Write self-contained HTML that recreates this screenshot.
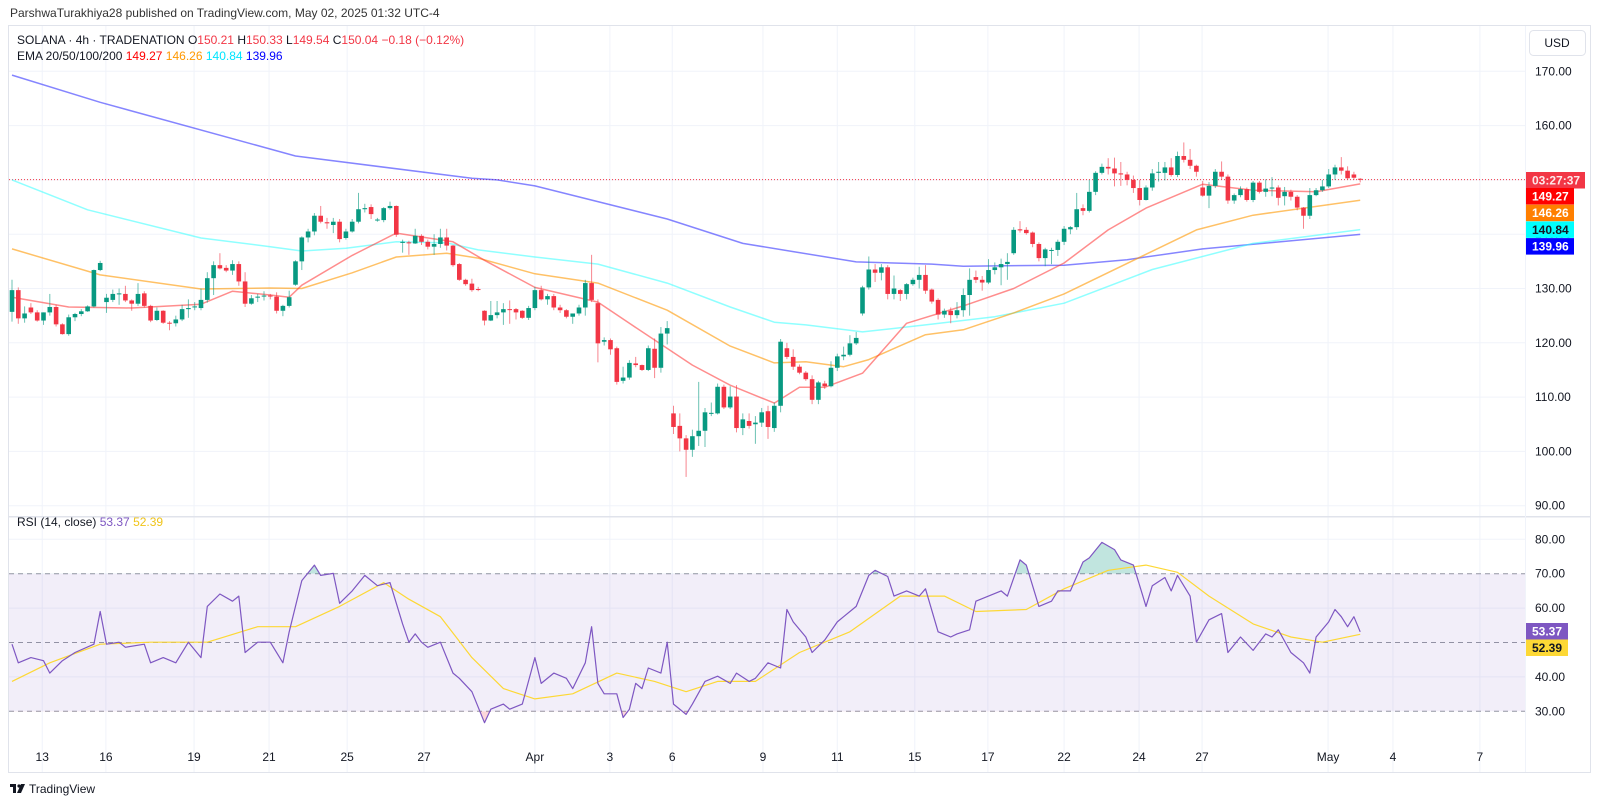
<!DOCTYPE html>
<html><head><meta charset="utf-8">
<style>
html,body{margin:0;padding:0;background:#fff;}
body{width:1600px;height:806px;overflow:hidden;font-family:"Liberation Sans",sans-serif;}
svg text{font-family:"Liberation Sans",sans-serif;}
</style></head>
<body>
<svg id="chart" width="1600" height="806" xmlns="http://www.w3.org/2000/svg">
  <text x="10" y="17" font-size="12" fill="#333">ParshwaTurakhiya28 published on TradingView.com, May 02, 2025 01:32 UTC-4</text>
  <rect x="8.5" y="25.5" width="1582" height="747" fill="none" stroke="#e0e3eb"/>
  <g id="grid"></g>
  <rect x="9" y="0" width="1516" height="0" id="rsiBand" fill="#7e57c2" fill-opacity="0.1"/>
  <g id="rsiFill"></g>
  <g id="ema"></g>
  <g id="candles"></g>
  <g id="rsi"></g>
  <line x1="9" x2="1590" y1="516.7" y2="516.7" stroke="#e0e3eb" stroke-width="1.5"/>
  <line x1="1525.5" x2="1525.5" y1="26" y2="772" stroke="#f0f3fa"/>
  <g id="axes"></g>
  <g font-size="12">
    <text x="17" y="44"><tspan fill="#131722">SOLANA · 4h · TRADENATION  </tspan><tspan fill="#131722">O</tspan><tspan fill="#f23645">150.21</tspan><tspan fill="#131722">  H</tspan><tspan fill="#f23645">150.33</tspan><tspan fill="#131722">  L</tspan><tspan fill="#f23645">149.54</tspan><tspan fill="#131722">  C</tspan><tspan fill="#f23645">150.04  −0.18 (−0.12%)</tspan></text>
    <text x="17" y="60"><tspan fill="#131722">EMA 20/50/100/200 </tspan><tspan fill="#ff0000"> 149.27 </tspan><tspan fill="#ff9800"> 146.26 </tspan><tspan fill="#00e5ff"> 140.84 </tspan><tspan fill="#0000ff"> 139.96</tspan></text>
    <text x="17" y="526"><tspan fill="#131722">RSI (14, close) </tspan><tspan fill="#7e57c2"> 53.37 </tspan><tspan fill="#f0c419"> 52.39</tspan></text>
  </g>
  <g>
    <rect x="1529.5" y="30.5" width="56" height="25" rx="4" fill="#fff" stroke="#e0e3eb"/>
    <text x="1557" y="47" font-size="12" fill="#131722" text-anchor="middle">USD</text>
  </g>
  <g transform="translate(0,15)">
    <rect x="10" y="769" width="6" height="3" fill="#131722"/><rect x="13" y="769" width="3" height="9" fill="#131722"/>
    <circle cx="19" cy="771" r="1.6" fill="#131722"/><path d="M21 769 L25 769 L21 778 L17 778 Z" fill="#131722"/>
    <text x="29" y="778" font-size="12" fill="#131722">TradingView</text>
  </g>
</svg>
<script>
// ---- data ----
const O=[125.7,129.7,124.5,126.5,125.6,124.1,125.6,126.6,123.4,121.6,124.7,125.3,125.8,126.7,133.4,127.5,127.9,129.0,129.0,127.8,127.2,129.1,126.8,124.2,125.9,123.7,123.6,124.3,126.2,126.6,126.4,127.9,131.9,134.3,133.8,133.3,134.5,131.3,127.2,128.4,128.6,
128.7,128.5,125.9,126.8,130.7,135,139.4,140.5,143.4,142.2,141.7,142.3,139.3,140.5,142.3,144.6,145,142.6,142.6,144.8,145.2,138.4,138.5,138.3,139.7,138.6,137.7,138.2,139.4,137.9,134.5,131.6,130.9,129.9,125.9,124.1,125.1,125.6,126.2,126.2,125.9,124.6,126.4,
129.7,128,128.6,126.5,
126,124.8,125.4,126.5,131,127.3,120.2,120.5,119,113,113.6,116.2,115.9,115,118.9,115.4,121.7,107,104.7,102.4,100.3,102.8,103.8,107,107,111.9,108.1,110.1,104.3,105.6,105,105.3,107.4,104.3,108.4,119,117.4,115.6,
114.5,113.3,109.5,112.5,112,115.4,117.5,117.8,119.9,125.4,130.2,133.5,132.9,133.9,129,129.7,129,130.8,131.6,132.5,129.8,127.9,125.2,125.9,125.1,126,128.8,132.1,131.6,131.1,133.4,133.9,134.5,136.5,140.9,140.8,140.3,138.2,135.6,137,137.1,
138.6,
140.9,141.3,144.8,144.3,147.8,151.3,152.4,152.1,151.2,151,150,148.5,146.3,148.6,151.3,151.3,152.3,150.9,154.4,153.7,152.6,148.6,147.1,148.9,151.5,150.6,146.2,147.2,148.3,146.3,149.5,147.8,148.4,148.6,147,147.8,146.9,144.9,143.4,147.2,148.1,148.8,151,152.3,151.7,151,150.21];
const H=[131.6,130.2,126.7,127.3,126,125.6,129,127,123.6,125.2,125.5,126.2,126.9,133.5,135.1,129,129.8,130,130.5,128,131,129.5,127,126.5,126,124,125,127,128,127.5,130,133,135,136.5,134.3,135.2,135,133,128.8,129,129.5,
129,129.3,127,129.6,135.2,139.6,141,143.9,145.2,143,143,142.8,141,142.8,147.6,145.6,145.5,143,145,146,145.3,139,138.8,141,140,139,140,141,141,138,134.7,131.8,131.8,130.3,126,127.7,127.7,127.3,127.8,126.4,126,126.8,130.3,
130.5,129,129,127,
126.2,125.4,127,131.6,136.2,128,121,120.8,119.3,115.6,116.8,117.4,116,119.5,120.8,122.9,124,108.4,107,103,104,112.8,108,109,112.5,112.3,112,112.2,107,107,106.5,108,108.4,109,120.7,120,118.8,116,
114.8,114,113,113,116.6,118,119.3,121.4,122,130.5,135.9,134.5,134.5,134.3,132.4,129.9,131,132,134,134.3,130,128.2,126.3,126.5,127.5,130,133.7,133.3,132.3,135.4,134.8,135.5,136.5,141.3,142.4,141.3,140.5,138.5,137.5,137.5,139,
141.5,
141.5,147.6,145.5,150,151.6,153,154,154.1,153.3,151.5,150.8,150,149,152,153.3,153.3,154,155.2,156.9,155.7,152.8,149.8,149.6,152,153.4,151,147.5,148.8,148.6,149.8,149.8,150.1,150.5,149,148.7,148.2,147.2,145,148.5,148.5,150,152,152.8,154.2,152.5,151.5,150.33];
const L=[123.9,123.5,123.7,125.3,123.9,123.3,125,123,121.5,121.3,124,124.9,125.7,126.5,133.2,125.5,127.5,127,127.5,125.9,126.8,126.5,123.8,124,123.5,122.3,123,124,124.6,126,126,127.4,128.8,133.5,133,132.5,130.5,126.6,127,127.5,127.8,
128,125.4,124.9,126.5,130.5,133.4,138.5,139.8,142,141,140.2,138.5,139,140.3,142,144,142.8,142.3,142.2,144.5,139.5,136.6,136.2,138.2,138,137.2,136.2,137.5,137,134,131.4,130.5,129.4,129.5,123.2,124,124.5,123.3,123.5,124.3,124.4,124.2,126,
127.8,127,126,125.5,
124.5,123.5,125,125,127.5,116.4,119.5,117.8,112.3,112.5,113.2,115.5,114.8,114.8,113.5,114.5,119.7,103.2,100,95.3,99,101,100.8,106.5,106.8,107.8,107.8,103.5,103,104.2,101.4,104.5,102.3,103.6,107.2,117,115,114.2,
113,108.7,108.7,111.5,111.8,114.8,116.8,117.5,119.6,125,129.8,131.2,131.5,128,128,127.7,128,130.5,130,129,127.2,124.3,124.6,123.6,124.5,124.8,125,131,129.6,130.8,132.6,130.6,131.6,136.2,140.3,139.9,137.6,135,134.1,134.5,136,
138,
140,140.8,143.5,144,147.2,151,151,148.8,148.9,149,147.6,145.3,146.2,148,149.7,149.9,150.6,150.5,153.2,152,150.6,146.9,144.8,148.5,150,145.6,145.6,146.8,146,145.9,147.5,146.9,147,145.3,145.3,146.2,144.4,141,142.8,147,147.8,148.5,150,151,150,150,149.54];
const C=[129.7,124.5,125.4,125.6,124.1,125.6,126.6,123.4,121.6,124.7,125.3,125.8,126.7,133.4,134.7,128.3,129.0,129.1,127.8,127.2,129.0,126.8,124.1,125.9,123.7,123.6,124.3,126.2,126.4,126.7,127.9,131.9,134.3,133.7,133.3,134.5,131.3,127.2,128.2,128.5,128.7,
128.6,125.9,126.8,128.4,135.0,139.4,140.5,143.4,142.3,142.0,142.3,139.1,140.5,142.3,144.6,144.8,143.7,142.7,144.8,145.2,139.9,138.6,138.4,139.7,138.6,137.7,138.2,139.4,137.9,134.3,131.6,130.8,129.7,129.8,124.1,125.1,125.6,126.2,126.1,125.6,124.6,126.4,129.7,
128,128.6,126.5,126,
124.8,125.4,126.5,131,127.9,119.9,120.5,118.8,112.8,113.6,116.3,115.9,115,119,115.4,121.7,122.7,104.5,102.4,100.3,102.8,103.8,107.2,107.1,111.9,108.1,110.1,104.3,105.9,104.7,105.3,107.2,104.5,108.4,120.2,117.4,115.6,114.5,
113.3,109.5,112.7,112,115.4,117.5,117.8,119.9,120.9,130.2,133.5,132.9,133.9,129,130,129,130.8,131.6,132.5,129.6,127.6,125.2,125.9,125.1,126,128.8,131.6,131.6,131.1,133.4,133.9,134.5,134.9,140.8,140.7,140.2,138.2,135.6,137.2,137.1,138.6,
141,
141.3,144.6,144.3,147.8,151.3,152.4,152.1,151.2,151,150,148.5,146.3,148.6,151.2,151.5,152.3,150.9,154.4,153.7,152.6,151.5,147.1,148.9,151.5,150.6,146.2,147.2,148.3,146.3,149.5,147.8,148.4,148.6,146.7,147.8,146.9,144.9,143.4,147.2,148.1,148.8,151,152.3,151.7,150.3,150.4,150.04];

const ema20Bar=[0,9,19,30,35,41,44,46,54,61,70,75,83,93,98,108,114,121,125,129,135,142,151,159,167,174,180,189,197,207,214];
const ema20Val=[128.4,126.6,126.4,127.1,129.5,128.8,128.4,130.6,136.1,140.2,138.6,135.2,130.2,127.5,123.6,115.9,112.2,108.9,111.8,111.8,114.4,123.6,126.8,130,134.7,140.8,144.8,149.2,148.1,147.8,149.27];
const ema50Bar=[0,14,30,41,46,54,61,69,74,83,93,104,114,121,126,132,136,145,151,159,167,188,197,214];
const ema50Val=[137.3,132.5,129.9,130.1,130,132.9,135.8,136.5,135.6,132.7,131,126,119.4,116.3,116.5,115.6,116.9,121.5,122.4,125.5,129,140.8,143.5,146.26];
const ema100Bar=[0,12,30,41,46,53,61,69,74,83,93,104,114,121,126,135,145,156,167,181,197,214];
const ema100Val=[150,144.5,139.3,137.7,136.9,137.4,138.6,138.4,137.1,135.8,134.5,131,126.6,123.8,123.3,122,123.3,124.8,127.3,133.5,138.3,140.84];
const ema200Bar=[0,14,45,73,77,83,104,116,124,134,146,151,167,177,189,214];
const ema200Val=[169.3,164.3,154.4,150.3,150,148.9,142.8,138.3,136.8,134.9,134.5,134.1,134.3,135.3,137.3,139.96];

const rsiBar=[0,1,3,5,6,8,10,13,14,15,17,18,21,22,24,26,28,30,31,33,35,36,37,39,41,43,44,46,48,49,51,52,54,56,58,60,62,63,64,65,66,68,70,71,73,75,76,78,79,81,83,84,86,88,89,91,92,93,94,96,97,98,99,100,101,103,104,105,107,108,110,112,114,115,117,118,120,122,123,124,126,127,129,131,132,134,136,137,139,140,142,144,145,147,149,150,152,153,155,157,158,160,161,163,165,166,168,170,171,173,175,176,178,180,181,183,184,185,187,188,190,192,193,195,197,199,200,201,203,205,206,207,209,210,211,212,213,214];
const rsiVal=[49.5,44.1,45.6,44.7,41.1,44.7,47.1,49.5,59.0,49.5,50.1,48.6,49.5,44.1,45.6,44.1,50.1,45.6,60.5,64.1,62.0,63.5,47.1,50.1,50.1,44.1,53.1,68.0,72.5,69.5,70.1,61.4,65.0,69.5,66.5,67.4,55.4,50.1,52.5,50.1,48.6,50.1,41.1,39.6,35.7,26.7,30.6,32.1,30.6,32.1,45.6,38.1,41.1,39.6,36.6,44.1,54.6,38.1,35.1,35.1,28.2,30.6,38.1,36.6,42.6,41.1,50.1,32.1,29.1,32.1,38.7,40.2,38.1,41.1,38.7,39.6,44.1,42.6,59.6,56.0,51.6,47.1,50.7,56.0,57.5,60.5,69.5,71.0,69.2,63.5,65.0,63.5,65.6,53.1,51.6,52.5,53.7,62.0,63.5,65.0,63.5,74.0,72.5,60.5,62.0,65.0,65.0,73.4,74.6,79.1,77.0,74.0,72.5,60.5,66.5,68.9,65.0,69.5,63.5,50.1,56.6,58.4,47.1,51.6,47.7,52.5,51.6,53.7,47.1,44.1,41.1,51.6,56.0,59.6,57.5,54.6,57.5,53.1,53.37];
const rsiMaBar=[0,6,14,22,31,39,45,52,59,63,68,73,78,83,89,96,102,107,112,118,125,133,141,148,153,161,167,174,180,185,190,197,203,208,214];
const rsiMaVal=[38.7,44.1,49.5,50.1,50.1,54.6,54.6,60.5,67.4,62.6,57.5,45.6,36.6,33.6,35.1,41.1,38.7,35.7,38.7,38.7,47.1,53.1,63.5,63.5,59.0,59.6,65.6,71.0,72.5,70.4,63.5,55.4,51.6,50.1,52.39];

const priceTicks=[170,160,150,140,130,120,110,100,90];
const rsiTicks=[80,70,60,50,40,30];
const dateLabels=["13","16","19","21","25","27","Apr","3","6","9","11","15","17","22","24","27","May","4","7"];
const dateBars=[4.8,14.9,28.9,40.8,53.2,65.4,83,94.9,104.8,119.2,131,143.3,154.9,167,178.9,188.9,208.9,219.2,233];
const lastClose=150.04;
const emaTags=[["149.27","#ff0000","#fff"],["146.26","#ff7f00","#fff"],["140.84","#00ffff","#131722"],["139.96","#0000ff","#fff"]];

// ---- scales ----
const NS="http://www.w3.org/2000/svg";
const xB=i=>12+i*6.3;
const yP=p=>71.3+(170-p)*5.43;
const yR=v=>539.3+(80-v)*3.44;
function mk(tag,attrs,parent){const e=document.createElementNS(NS,tag);for(const k in attrs)e.setAttribute(k,attrs[k]);parent.appendChild(e);return e;}

const grid=document.getElementById('grid');
priceTicks.forEach(p=>{const ln=mk('line',{x1:9,x2:1525,y1:yP(p),y2:yP(p),stroke:'#f0f3fa'},grid);

});
[80,60,40].forEach(v=>{const ln=mk('line',{x1:9,x2:1525,y1:yR(v),y2:yR(v),stroke:'#f0f3fa'},grid);

});
dateBars.forEach(b=>{const ln=mk('line',{x1:xB(b),x2:xB(b),y1:26,y2:772,stroke:'#f0f3fa'},grid);

});

const band=document.getElementById('rsiBand');
band.setAttribute('y',yR(70));band.setAttribute('height',yR(30)-yR(70));
[70,50,30].forEach(v=>{const ln=mk('line',{x1:9,x2:1525,y1:yR(v),y2:yR(v),stroke:'#9598a1','stroke-dasharray':'5,4'},grid);

});

const pl=mk('line',{x1:9,x2:1525,y1:yP(lastClose),y2:yP(lastClose),stroke:'#f23645','stroke-dasharray':'1,2'},grid);



const emaG=document.getElementById('ema');
function poly(bars,vals,ys,color,name,parent,w,op){
  const pts=bars.map((b,i)=>xB(b).toFixed(1)+','+ys(vals[i]).toFixed(1)).join(' ');
  const e=mk('polyline',{points:pts,fill:'none',stroke:color,'stroke-width':w,'stroke-opacity':op,'stroke-linejoin':'round'},parent);
  
  
  return e;
}
poly(ema200Bar,ema200Val,yP,'#3333ff','ema-200-line',emaG,1.5,0.6);
poly(ema100Bar,ema100Val,yP,'#33ffff','ema-100-line',emaG,1.5,0.55);
poly(ema50Bar,ema50Val,yP,'#ff9800','ema-50-line',emaG,1.5,0.6);
poly(ema20Bar,ema20Val,yP,'#ff3030','ema-20-line',emaG,1.5,0.55);

const cg=document.getElementById('candles');
const n=Math.min(O.length,H.length,L.length,C.length);
for(let i=0;i<n;i++){
  const up=C[i]>=O[i];const col=up?'#089981':'#f23645';const x=xB(i);
  const g=mk('g',{},cg);
  
  
  mk('line',{x1:x,x2:x,y1:yP(H[i]),y2:yP(L[i]),stroke:col,'stroke-width':1,'stroke-opacity':0.6},g);
  const top=yP(Math.max(O[i],C[i])),bot=yP(Math.min(O[i],C[i]));
  mk('rect',{x:x-2.3,y:top,width:4.6,height:Math.max(1,bot-top),fill:col},g);
}

const rf=document.getElementById('rsiFill');
const defs=mk('defs',{},document.getElementById('chart'));
const c1=mk('clipPath',{id:'ob'},defs);mk('rect',{x:0,y:0,width:1600,height:yR(70)},c1);
const c2=mk('clipPath',{id:'os'},defs);mk('rect',{x:0,y:yR(30),width:1600,height:200},c2);
const linePts=rsiBar.map((b,i)=>xB(b).toFixed(1)+','+yR(rsiVal[i]).toFixed(1));
const obPoly=mk('polygon',{points:xB(rsiBar[0])+','+yR(70)+' '+linePts.join(' ')+' '+xB(rsiBar[rsiBar.length-1])+','+yR(70),fill:'#089981','fill-opacity':0.25,'clip-path':'url(#ob)'},rf);


const osPoly=mk('polygon',{points:xB(rsiBar[0])+','+yR(30)+' '+linePts.join(' ')+' '+xB(rsiBar[rsiBar.length-1])+','+yR(30),fill:'#f23645','fill-opacity':0.2,'clip-path':'url(#os)'},rf);



const rg=document.getElementById('rsi');
poly(rsiMaBar,rsiMaVal,yR,'#fdd835','rsi-ma-line',rg,1.2,1);
poly(rsiBar,rsiVal,yR,'#7e57c2','rsi-line',rg,1.2,1);

const ax=document.getElementById('axes');
priceTicks.forEach(p=>{const t=mk('text',{x:1535,y:yP(p)+4,'font-size':12,fill:'#131722'},ax);t.textContent=p.toFixed(2);

});
rsiTicks.forEach(v=>{const t=mk('text',{x:1535,y:yR(v)+4,'font-size':12,fill:'#131722'},ax);t.textContent=v.toFixed(2);

});
dateLabels.forEach((d,i)=>{const t=mk('text',{x:xB(dateBars[i]),y:761,'font-size':12,fill:'#131722','text-anchor':'middle'},ax);t.textContent=d;

});

function tag(y,w,bg,fg,txt,name){
  const g=mk('g',{},ax);
  
  
  mk('rect',{x:1526,y:y,width:w,height:16.5,fill:bg},g);
  const t=mk('text',{x:1532,y:y+12.5,'font-size':12,'font-weight':'bold',fill:fg},g);t.textContent=txt;
}
tag(172,59,'#f23645','#fde8ea','03:27:37','countdown-tag');
emaTags.forEach((e,i)=>tag(188+i*16.7,48,e[1],e[2],e[0],'ema-value-tag'));
tag(623,42,'#7e57c2','#fff','53.37','rsi-value-tag');
tag(639.5,42,'#fdd835','#131722','52.39','rsi-ma-value-tag');
</script>
</body></html>
